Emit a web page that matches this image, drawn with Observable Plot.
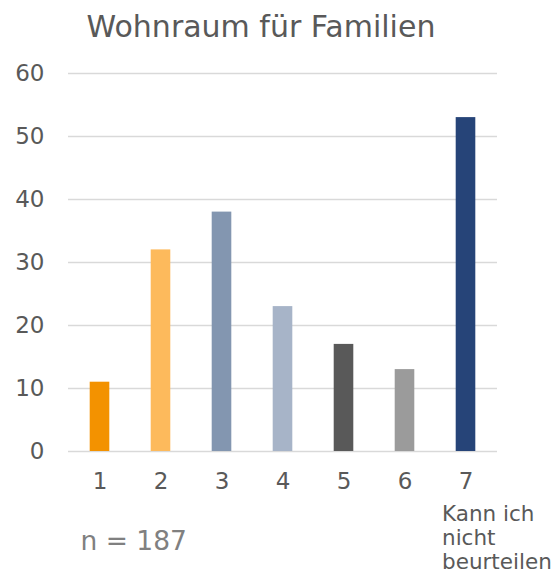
<!DOCTYPE html>
<html>
<head>
<meta charset="utf-8">
<script src="https://cdn.jsdelivr.net/npm/d3@7"></script>
<script src="https://cdn.jsdelivr.net/npm/@observablehq/plot@0.6"></script>
<style>
  html, body { margin: 0; padding: 0; background: #ffffff; }
  #chart { width: 552px; height: 573px; }
</style>
</head>
<body>
<div id="chart"></div>
<script>
const categories = ["1", "2", "3", "4", "5", "6", "7"];
const values = [11, 32, 38, 23, 17, 13, 53];
const colors = ["#F39200", "#FDBA5C", "#8396B0", "#A7B4C8", "#595959", "#9B9B9B", "#264478"];
const yTicks = [0, 10, 20, 30, 40, 50, 60];
const title = "Wohnraum für Familien";
const note = "n = 187";
const extraLabel = "Kann ich\nnicht\nbeurteilen";

const data = categories.map((c, i) => ({cat: c, value: values[i]}));

const chart = Plot.plot({
  width: 552,
  height: 573,
  marginTop: 73,
  marginBottom: 122,
  marginLeft: 68,
  marginRight: 55,
  style: {fontFamily: "'DejaVu Sans', Verdana, sans-serif", background: "#ffffff", overflow: "visible"},
  x: {domain: categories, padding: 0, axis: null},
  y: {domain: [0, 60], axis: null},
  color: {domain: categories, range: colors},
  marks: [
    Plot.gridY(yTicks, {stroke: "#D9D9D9", strokeOpacity: 1, strokeWidth: 1.5}),
    Plot.barY(data, {x: "cat", y: "value", fill: "cat", insetLeft: 20.7, insetRight: 20.7}),
    Plot.axisY(yTicks, {tickSize: 0, tickPadding: 24, fontSize: 23, fill: "#595959", label: null}),
    Plot.axisX(categories, {tickSize: 0, tickPadding: 21, fontSize: 23, fill: "#595959", label: null}),
    Plot.text([extraLabel], {x: () => "7", y: () => 0, text: d => d, textAnchor: "start", lineAnchor: "middle",
      dx: -24, dy: 86, fontSize: 21.5, lineHeight: 1.12, fill: "#595959"}),
    Plot.text([title], {frameAnchor: "top", text: d => d, dx: -22, dy: -58, fontSize: 30, fill: "#595959"}),
    Plot.text([note], {frameAnchor: "bottom-left", text: d => d, textAnchor: "start", dx: 12, dy: 98, fontSize: 26.5, fill: "#808080"})
  ]
});
document.getElementById("chart").appendChild(chart);
</script>
</body>
</html>
